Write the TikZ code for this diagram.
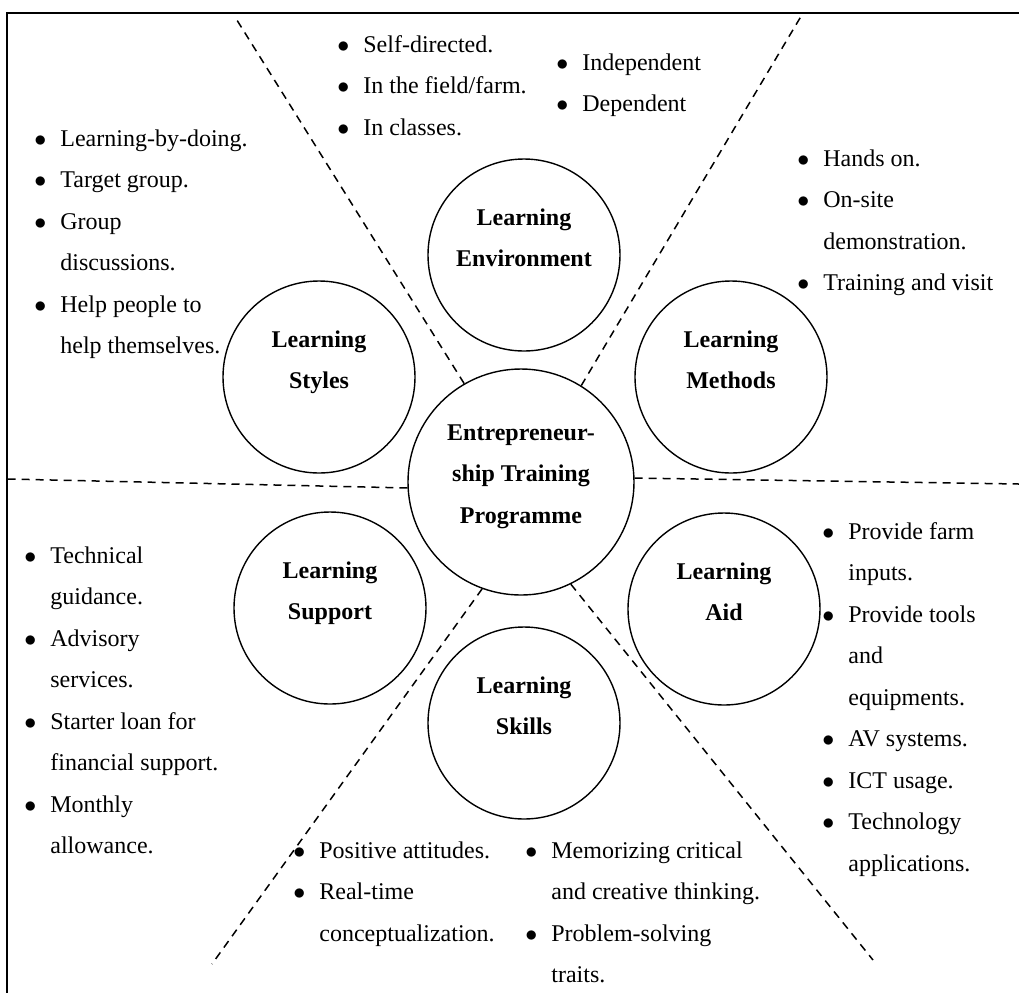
\documentclass[tikz,border=0pt]{standalone}
\usepackage{fontspec}
\setmainfont{Liberation Serif}
\usepackage{tikz}
\newcommand*\basefont{\fontsize{12pt}{20.75pt}\selectfont}
\pgfkeys{tikz/ring/.style={circle,draw,line width=0.7pt,minimum size=96pt,inner sep=0pt}}
\pgfkeys{tikz/hub/.style={ring,minimum size=113pt}}
\pgfkeys{tikz/ringtxt/.style={font=\basefont\bfseries,anchor=base,inner sep=0pt}}
\pgfkeys{tikz/pts/.style={anchor=base west,inner sep=0pt}}
\pgfkeys{tikz/divider/.style={dash pattern=on 4pt off 3pt,line width=0.75pt}}
\newcommand*\ringlbl[1]{\begin{tabular}[t]{@{}c@{}}#1\end{tabular}}
\newcommand*\ptlist[1]{\begin{tabular}[t]{@{}l@{\hspace{7pt}}l@{}}#1\end{tabular}}
\newcommand*\blt{$\bullet$ &}

\begin{document}
\begin{tikzpicture}[x=0.5pt,y=-0.5pt,font=\basefont]
\useasboundingbox (0,0) rectangle (1019,993);

% frame
\draw[line width=1pt] (1019,13) -- (7,13) -- (7,993);

% circles
\node[ring] (env)     at (524,255) {};
\node[ring] (styles)  at (319,377) {};
\node[ring] (methods) at (731,377) {};
\node[hub]  (prog)    at (521,482) {};
\node[ring] (support) at (330,608) {};
\node[ring] (aid)     at (724,609) {};
\node[ring] (skills)  at (524,723) {};

\node[ringtxt] (envtxt)     at ([yshift=15pt]env.center)     {\ringlbl{Learning\\Environment}};
\node[ringtxt] (stylestxt)  at ([yshift=15pt]styles.center)  {\ringlbl{Learning\\Styles}};
\node[ringtxt] (methodstxt) at ([yshift=15pt]methods.center) {\ringlbl{Learning\\Methods}};
\node[ringtxt] (progtxt)    at ([yshift=21pt]prog.center)    {\ringlbl{Entrepreneur-\\ship Training\\Programme}};
\node[ringtxt] (supporttxt) at ([yshift=15pt]support.center) {\ringlbl{Learning\\Support}};
\node[ringtxt] (aidtxt)     at ([yshift=15pt]aid.center)     {\ringlbl{Learning\\Aid}};
\node[ringtxt] (skillstxt)  at ([yshift=15pt]skills.center)  {\ringlbl{Learning\\Skills}};

% dividers
\coordinate (ulend) at (235,17);
\coordinate (urend) at (803,13);
\coordinate (lend)  at (7,479);
\coordinate (rend)  at (1019,484);
\coordinate (llend) at (212,964);
\coordinate (lrend) at (873,960);

\draw[divider] (prog.120) -- (ulend);
\draw[divider] (prog.58)  -- (urend);
\draw[divider] (prog.183) -- (lend);
\draw[divider] (prog.2)   -- (rend);
\draw[divider] (prog.-110) -- (llend);
\draw[divider] (prog.-64) -- (lrend);

% bullet lists
\node[pts] (envpts)  at (337,52) {\ptlist{\blt Self-directed.\\ \blt In the field/farm.\\ \blt In classes.}};
\node[pts] (envpts2) at (556,70) {\ptlist{\blt Independent\\ \blt Dependent}};
\node[pts] (stylespts) at (34,146) {\ptlist{\blt Learning-by-doing.\\ \blt Target group.\\ \blt Group\\ & discussions.\\ \blt Help people to\\ & help themselves.}};
\node[pts] (methodspts) at (797,166) {\ptlist{\blt Hands on.\\ \blt On-site\\ & demonstration.\\ \blt Training and visit}};
\node[pts] (supportpts) at (24,563) {\ptlist{\blt Technical\\ & guidance.\\ \blt Advisory\\ & services.\\ \blt Starter loan for\\ & financial support.\\ \blt Monthly\\ & allowance.}};
\node[pts] (aidpts) at (822,539) {\ptlist{\blt Provide farm\\ & inputs.\\ \blt Provide tools\\ & and\\ & equipments.\\ \blt AV systems.\\ \blt ICT usage.\\ \blt Technology\\ & applications.}};
\node[pts] (skillspts)  at (293,858) {\ptlist{\blt Positive attitudes.\\ \blt Real-time\\ & conceptualization.}};
\node[pts] (skillspts2) at (525,858) {\ptlist{\blt Memorizing critical\\ & and creative thinking.\\ \blt Problem-solving\\ & traits.}};

\end{tikzpicture}
\end{document}
